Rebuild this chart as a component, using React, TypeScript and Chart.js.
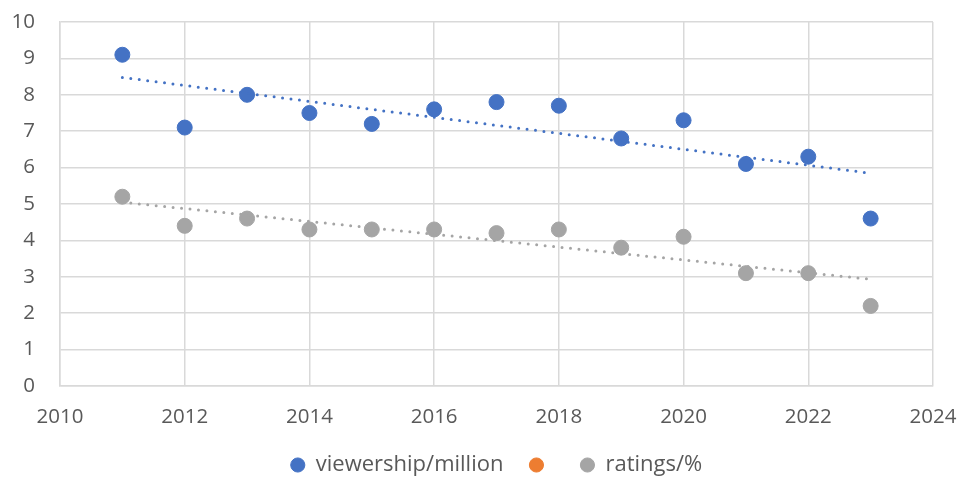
import React, { useEffect, useRef } from 'react';
import { Chart, registerables } from 'chart.js';
Chart.register(...registerables);

const years = [2011, 2012, 2013, 2014, 2015, 2016, 2017, 2018, 2019, 2020, 2021, 2022, 2023];
const viewership = [9.1, 7.1, 8.0, 7.5, 7.2, 7.6, 7.8, 7.7, 6.8, 7.3, 6.1, 6.3, 4.6];
const ratings = [5.2, 4.4, 4.6, 4.3, 4.3, 4.3, 4.2, 4.3, 3.8, 4.1, 3.1, 3.1, 2.2];
const seriesLabels = ['viewership/million', '', 'ratings/%'];
const seriesColors = ['#4472C4', '#ED7D31', '#A5A5A5'];
const xRange = [2010, 2024];
const yRange = [0, 10];

function linearTrend(xs: number[], ys: number[]) {
  const n = xs.length;
  const mx = xs.reduce((a, b) => a + b, 0) / n;
  const my = ys.reduce((a, b) => a + b, 0) / n;
  let sxy = 0, sxx = 0;
  for (let i = 0; i < n; i++) {
    sxy += (xs[i] - mx) * (ys[i] - my);
    sxx += (xs[i] - mx) * (xs[i] - mx);
  }
  const b = sxy / sxx;
  const a = my - b * mx;
  return [xs[0], xs[n - 1]].map((x) => ({ x, y: a + b * x }));
}

const toPoints = (ys: number[]) => ys.map((y, i) => ({ x: years[i], y }));

const zeroPad = (s: any) => {
  s.paddingTop = 0;
  s.paddingBottom = 0;
  s.paddingLeft = 0;
  s.paddingRight = 0;
};

const legendShift = {
  id: 'legendShift',
  afterLayout(chart: any) {
    const l = chart.legend;
    if (l) {
      l.left += 30;
      l.right += 30;
      if (l.adjustHitBoxes) l.adjustHitBoxes();
    }
  },
};

export default function App() {
  const ref = useRef<HTMLCanvasElement>(null);
  useEffect(() => {
    document.body.style.margin = '0';
    const font = 'Open Sans';
    const trendStyle = (color: string) => ({
      type: 'line' as const,
      showLine: true,
      borderColor: color,
      backgroundColor: color,
      borderWidth: 3,
      borderDash: [0, 8.5],
      borderCapStyle: 'round' as const,
      pointRadius: 0,
      pointHoverRadius: 0,
      fill: false,
      order: 0,
    });
    const chart = new Chart(ref.current!, {
      type: 'scatter',
      data: {
        datasets: [
          {
            label: seriesLabels[0],
            data: toPoints(viewership),
            backgroundColor: seriesColors[0],
            borderColor: seriesColors[0],
            pointRadius: 7.5,
            order: 1,
          },
          {
            label: seriesLabels[1],
            data: [],
            backgroundColor: seriesColors[1],
            borderColor: seriesColors[1],
            pointRadius: 7.5,
            order: 1,
          },
          {
            label: seriesLabels[2],
            data: toPoints(ratings),
            backgroundColor: seriesColors[2],
            borderColor: seriesColors[2],
            pointRadius: 7.5,
            order: 1,
          },
          { label: 'trend1', data: linearTrend(years, viewership), ...trendStyle(seriesColors[0]) } as any,
          { label: 'trend2', data: linearTrend(years, ratings), ...trendStyle(seriesColors[2]) } as any,
        ],
      },
      plugins: [legendShift],
      options: {
        responsive: false,
        animation: false,
        layout: { padding: { top: 22, right: 24, left: 0, bottom: 0 } },
        plugins: {
          tooltip: { enabled: false },
          legend: {
            position: 'bottom',
            labels: {
              filter: (item) => !String(item.text).startsWith('trend'),
              usePointStyle: true,
              pointStyle: 'circle',
              boxWidth: 14,
              boxHeight: 10,
              padding: 26,
              color: '#595959',
              font: { family: font, size: 22 },
            },
          },
        },
        scales: {
          x: {
            type: 'linear',
            min: xRange[0],
            max: xRange[1],
            afterFit: (s: any) => { s.height = 42; zeroPad(s); },
            ticks: {
              stepSize: 2,
              padding: 21,
              color: '#595959',
              font: { family: font, size: 20.5, lineHeight: 1 },
              callback: (v: any) => String(v),
            },
            grid: { color: '#D9D9D9', lineWidth: 1.5, drawTicks: false },
            border: { color: '#D9D9D9', width: 1.5 },
          },
          y: {
            min: yRange[0],
            max: yRange[1],
            afterFit: (s: any) => { s.width = 60; zeroPad(s); },
            ticks: {
              stepSize: 1,
              padding: 25,
              color: '#595959',
              font: { family: font, size: 20.5 },
            },
            grid: { color: '#D9D9D9', lineWidth: 1.5, drawTicks: false },
            border: { color: '#D9D9D9', width: 1.5 },
          },
        },
      },
    });
    return () => chart.destroy();
  }, []);
  return (
    <div style={{ width: 957, height: 486, background: '#fff' }}>
      <canvas ref={ref} width={957} height={486} />
    </div>
  );
}
